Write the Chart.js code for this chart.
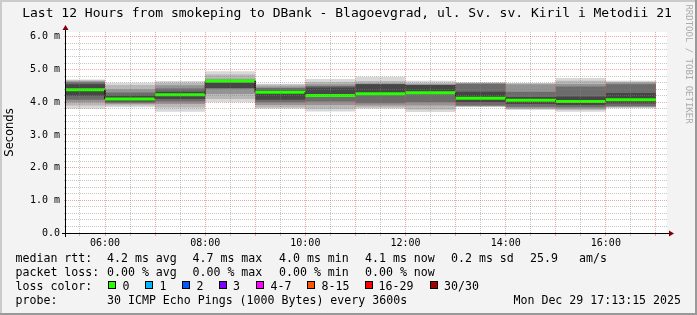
<!DOCTYPE html>
<html>
<head>
<meta charset="utf-8">
<script src="https://cdn.jsdelivr.net/npm/chart.js@4.4.1/dist/chart.umd.min.js"></script>
<style>
  html, body { margin: 0; padding: 0; background: #f3f3f3; }
  canvas { display: block; }
</style>
</head>
<body>
<canvas id="smokeChart" width="697" height="315"></canvas>
<script>
// hourly steps (start hour of each block)
const blockStart = [5, 6, 7, 8, 9, 10, 11, 12, 13, 14, 15, 16];
const medianRtt = [4.38, 4.10, 4.23, 4.65, 4.31, 4.21, 4.26, 4.29, 4.12, 4.06, 4.02, 4.08];

// smoke bands, outer (min/max) to inner, in ms
const smokeLow = [
  [3.80, 3.85, 3.71, 4.00, 3.80, 3.72, 3.80, 3.70, 3.86, 3.77, 3.71, 3.82],
  [3.90, 3.90, 3.84, 4.10, 3.84, 3.80, 3.84, 3.78, 3.87, 3.79, 3.76, 3.84],
  [4.00, 3.95, 3.95, 4.25, 3.92, 3.92, 3.90, 3.90, 3.88, 3.82, 3.80, 3.86],
  [4.08, 3.98, 4.02, 4.43, 4.00, 4.02, 3.97, 4.00, 3.90, 3.86, 3.85, 3.88],
  [4.20, 4.02, 4.10, 4.43, 4.08, 4.22, 4.28, 4.32, 4.00, 3.95, 3.92, 3.96]
];
const smokeHigh = [
  [4.70, 4.60, 4.65, 4.95, 4.57, 4.71, 4.78, 4.66, 4.61, 4.59, 4.74, 4.66],
  [4.67, 4.53, 4.60, 4.85, 4.54, 4.62, 4.65, 4.60, 4.60, 4.58, 4.66, 4.63],
  [4.64, 4.40, 4.52, 4.72, 4.48, 4.55, 4.58, 4.56, 4.59, 4.55, 4.56, 4.60],
  [4.61, 4.30, 4.42, 4.68, 4.44, 4.50, 4.56, 4.53, 4.56, 4.32, 4.48, 4.55],
  [4.55, 4.20, 4.32, 4.59, 4.36, 4.45, 4.55, 4.53, 4.32, 4.16, 4.18, 4.28]
];
const smokeColors = ['#d8d8d8', '#b8b8b8', '#949494', '#6c6c6c', '#464646'];

const labelHours = [6, 8, 10, 12, 14, 16];
const hourLabels = ['06:00', '08:00', '10:00', '12:00', '14:00', '16:00'];
const viewStart = 5 + 13.25 / 60; // 05:13:15
const viewEnd = viewStart + 12;

const lossLabels = ['0', '1', '2', '3', '4-7', '8-15', '16-29', '30/30'];
const lossColors = ['#26ff00', '#00b8ff', '#0059ff', '#7e00ff', '#ff00ff', '#ff5500', '#ff0000', '#a10000'];

const MONO = '"DejaVu Sans Mono", monospace';

function stepPoints(values) {
  const pts = [];
  values.forEach((v, i) => {
    pts.push({ x: blockStart[i], y: v });
    pts.push({ x: blockStart[i] + 1, y: v });
  });
  return pts;
}

const datasets = [{
  data: stepPoints(medianRtt),
  borderColor: '#26ff00',
  borderWidth: 3,
  pointRadius: 0,
  fill: false,
  clip: 0,
  segment: {
    borderColor: c => c.p0.parsed.y === c.p1.parsed.y ? '#26ff00' : '#202020',
    borderWidth: c => c.p0.parsed.y === c.p1.parsed.y ? 3 : 1
  }
}];
// innermost first so that the outer (lighter) bands get drawn underneath
for (let k = smokeLow.length - 1; k >= 0; k--) {
  datasets.push({ data: stepPoints(smokeLow[k]), borderWidth: 0, pointRadius: 0, fill: false });
  datasets.push({ data: stepPoints(smokeHigh[k]), borderWidth: 0, pointRadius: 0,
                  fill: '-1', backgroundColor: smokeColors[k] });
}

const rrdFrame = {
  id: 'rrdFrame',
  beforeDraw(chart) {
    const { ctx, chartArea: a } = chart;
    ctx.save();
    ctx.fillStyle = '#ffffff';
    ctx.fillRect(a.left, a.top, a.right - a.left, a.bottom - a.top);
    ctx.restore();
  },
  afterDraw(chart) {
    const { ctx, chartArea: a } = chart;
    const W = chart.width, H = chart.height;
    ctx.save();
    // 3d frame
    ctx.fillStyle = '#cbcbcb';
    ctx.fillRect(0, 0, W, 2);
    ctx.fillRect(0, 0, 2, H);
    ctx.fillStyle = '#999999';
    ctx.fillRect(0, H - 2, W, 2);
    ctx.fillRect(W - 2, 0, 2, H);

    // axes
    ctx.strokeStyle = '#000';
    ctx.lineWidth = 1;
    ctx.beginPath();
    ctx.moveTo(a.left - 0.5, a.bottom + 4);
    ctx.lineTo(a.left - 0.5, a.top - 4);
    ctx.moveTo(a.left - 4, a.bottom + 0.5);
    ctx.lineTo(a.right + 4, a.bottom + 0.5);
    ctx.stroke();
    ctx.fillStyle = '#7f0000';
    ctx.beginPath();
    ctx.moveTo(a.left - 3.5, a.top - 2);
    ctx.lineTo(a.left + 2.5, a.top - 2);
    ctx.lineTo(a.left - 0.5, a.top - 7);
    ctx.closePath();
    ctx.fill();
    ctx.beginPath();
    ctx.moveTo(a.right + 2, a.bottom - 2.5);
    ctx.lineTo(a.right + 2, a.bottom + 3.5);
    ctx.lineTo(a.right + 7, a.bottom + 0.5);
    ctx.closePath();
    ctx.fill();

    // title
    ctx.fillStyle = '#000';
    ctx.textBaseline = 'middle';
    ctx.textAlign = 'center';
    ctx.font = '13px ' + MONO;
    ctx.fillText('Last 12 Hours from smokeping to DBank - Blagoevgrad, ul. Sv. sv. Kiril i Metodii 21', 347, 14);

    // y title
    ctx.save();
    ctx.translate(10.5, a.top + (a.bottom - a.top) / 2);
    ctx.rotate(-Math.PI / 2);
    ctx.font = '11.5px "DejaVu Sans", sans-serif';
    ctx.fillText('Seconds', 0, 0);
    ctx.restore();

    // watermark
    ctx.save();
    ctx.translate(688, 64);
    ctx.rotate(Math.PI / 2);
    ctx.font = '9px ' + MONO;
    ctx.fillStyle = '#ababab';
    ctx.fillText('RRDTOOL / TOBI OETIKER', 0, 0);
    ctx.restore();

    // legend
    ctx.textAlign = 'left';
    ctx.font = '11.6px ' + MONO;
    const rows = [259, 273, 287, 301];
    const put = (t, x, y) => ctx.fillText(t, x, y);
    put('median rtt:', 15.5, rows[0]);
    put('4.2 ms avg', 107, rows[0]);
    put('4.7 ms max', 192.5, rows[0]);
    put('4.0 ms min', 279, rows[0]);
    put('4.1 ms now', 365, rows[0]);
    put('0.2 ms sd', 451, rows[0]);
    put('25.9', 530, rows[0]);
    put('am/s', 579, rows[0]);

    put('packet loss:', 15.5, rows[1]);
    put('0.00 % avg', 107, rows[1]);
    put('0.00 % max', 192.5, rows[1]);
    put('0.00 % min', 279, rows[1]);
    put('0.00 % now', 365, rows[1]);

    put('loss color:', 15.5, rows[2]);
    const boxX = [108.5, 145.5, 182.5, 219.5, 256.5, 307.5, 365.5, 430.5];
    const textX = [122.5, 159.5, 196.5, 233, 270.5, 321.5, 378.5, 444];
    lossLabels.forEach((l, i) => {
      ctx.fillStyle = lossColors[i];
      ctx.fillRect(boxX[i], 281.5, 7, 7);
      ctx.strokeStyle = '#000';
      ctx.strokeRect(boxX[i], 281.5, 7, 7);
      ctx.fillStyle = '#000';
      put(l, textX[i], rows[2]);
    });

    put('probe:', 15.5, rows[3]);
    put('30 ICMP Echo Pings (1000 Bytes) every 3600s', 107, rows[3]);
    ctx.textAlign = 'right';
    put('Mon Dec 29 17:13:15 2025', 681, rows[3]);
    ctx.restore();
  }
};

const majorGrid = 'rgba(225,80,80,0.5)';
const minorGrid = 'rgba(130,130,130,0.45)';

new Chart(document.getElementById('smokeChart'), {
  type: 'line',
  data: { datasets },
  options: {
    responsive: false,
    animation: false,
    layout: { padding: { left: 0, right: 30, top: 32, bottom: 62 } },
    plugins: { legend: { display: false }, tooltip: { enabled: false } },
    scales: {
      x: {
        type: 'linear',
        min: viewStart,
        max: viewEnd,
        afterBuildTicks: s => {
          const t = [];
          for (let h = 11; h <= 34; h++) t.push({ value: h / 2 });
          s.ticks = t;
        },
        afterFit: s => { s.height = 20; },
        grid: {
          z: 1,
          tickLength: 3,
          color: c => (c.tick && c.tick.value % 1 === 0) ? majorGrid : minorGrid
        },
        border: { display: false, dash: [1, 1] },
        ticks: {
          autoSkip: false,
          maxRotation: 0,
          padding: 1,
          color: '#000',
          font: { family: MONO, size: 10 },
          callback: v => {
            const i = labelHours.indexOf(v);
            return i >= 0 ? hourLabels[i] : '';
          }
        }
      },
      y: {
        min: 0,
        max: 6.15,
        afterBuildTicks: s => {
          const t = [];
          for (let i = 0; i <= 30; i++) t.push({ value: i / 5 });
          s.ticks = t;
        },
        afterFit: s => { s.width = 66; },
        grid: {
          z: 1,
          tickLength: 2,
          color: c => (c.tick && Math.abs(c.tick.value - Math.round(c.tick.value)) < 1e-6) ? majorGrid : minorGrid
        },
        border: { display: false, dash: [1, 1] },
        ticks: {
          autoSkip: false,
          padding: 4,
          color: '#000',
          font: { family: MONO, size: 10 },
          callback: v => {
            if (Math.abs(v - Math.round(v)) > 1e-6) return '';
            return v === 0 ? '0.0' : v.toFixed(1) + ' m';
          }
        }
      }
    }
  },
  plugins: [rrdFrame]
});
</script>
</body>
</html>
